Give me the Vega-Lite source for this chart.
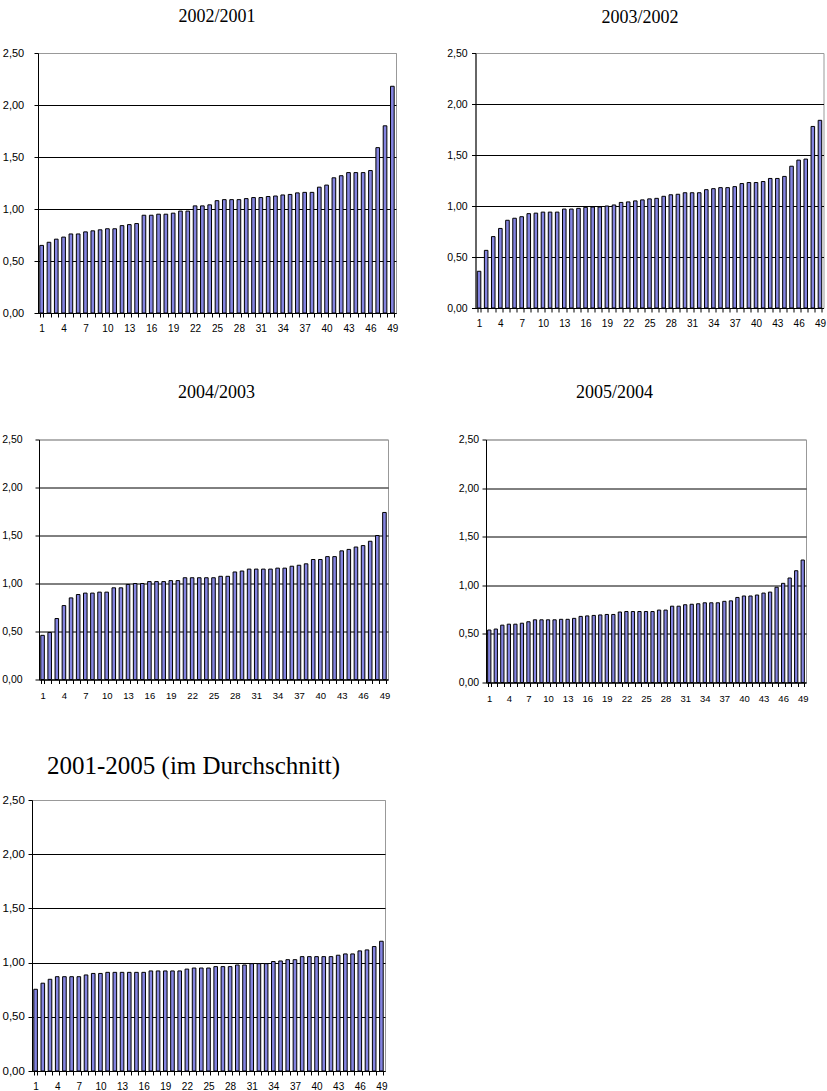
{
  "$schema": "https://vega.github.io/schema/vega-lite/v6.json",
  "padding": {"left": 0, "top": 7, "right": 5, "bottom": 5},
  "background": "white",
  "columns": 1,
  "align": "none",
  "spacing": 49.5,
  "datasets": {
    "d1": [
      {"i":1,"v":0.65},{"i":2,"v":0.68},{"i":3,"v":0.71},{"i":4,"v":0.73},{"i":5,"v":0.76},{"i":6,"v":0.76},{"i":7,"v":0.78},{"i":8,"v":0.79},{"i":9,"v":0.80},{"i":10,"v":0.81},
      {"i":11,"v":0.81},{"i":12,"v":0.84},{"i":13,"v":0.85},{"i":14,"v":0.86},{"i":15,"v":0.94},{"i":16,"v":0.94},{"i":17,"v":0.95},{"i":18,"v":0.95},{"i":19,"v":0.96},{"i":20,"v":0.98},
      {"i":21,"v":0.98},{"i":22,"v":1.03},{"i":23,"v":1.03},{"i":24,"v":1.04},{"i":25,"v":1.08},{"i":26,"v":1.09},{"i":27,"v":1.09},{"i":28,"v":1.09},{"i":29,"v":1.10},{"i":30,"v":1.11},
      {"i":31,"v":1.11},{"i":32,"v":1.12},{"i":33,"v":1.125},{"i":34,"v":1.135},{"i":35,"v":1.14},{"i":36,"v":1.155},{"i":37,"v":1.16},{"i":38,"v":1.16},{"i":39,"v":1.21},{"i":40,"v":1.23},
      {"i":41,"v":1.30},{"i":42,"v":1.32},{"i":43,"v":1.35},{"i":44,"v":1.35},{"i":45,"v":1.35},{"i":46,"v":1.37},{"i":47,"v":1.59},{"i":48,"v":1.80},{"i":49,"v":2.18}
    ],
    "d2": [
      {"i":1,"v":0.36},{"i":2,"v":0.565},{"i":3,"v":0.70},{"i":4,"v":0.78},{"i":5,"v":0.86},{"i":6,"v":0.88},{"i":7,"v":0.895},{"i":8,"v":0.925},{"i":9,"v":0.93},{"i":10,"v":0.94},
      {"i":11,"v":0.94},{"i":12,"v":0.94},{"i":13,"v":0.97},{"i":14,"v":0.97},{"i":15,"v":0.977},{"i":16,"v":0.987},{"i":17,"v":0.99},{"i":18,"v":0.99},{"i":19,"v":1.00},{"i":20,"v":1.01},
      {"i":21,"v":1.035},{"i":22,"v":1.04},{"i":23,"v":1.05},{"i":24,"v":1.06},{"i":25,"v":1.07},{"i":26,"v":1.075},{"i":27,"v":1.095},{"i":28,"v":1.11},{"i":29,"v":1.115},{"i":30,"v":1.13},
      {"i":31,"v":1.13},{"i":32,"v":1.13},{"i":33,"v":1.16},{"i":34,"v":1.17},{"i":35,"v":1.18},{"i":36,"v":1.18},{"i":37,"v":1.19},{"i":38,"v":1.22},{"i":39,"v":1.23},{"i":40,"v":1.23},
      {"i":41,"v":1.24},{"i":42,"v":1.27},{"i":43,"v":1.27},{"i":44,"v":1.29},{"i":45,"v":1.39},{"i":46,"v":1.45},{"i":47,"v":1.46},{"i":48,"v":1.78},{"i":49,"v":1.84}
    ],
    "d3": [
      {"i":1,"v":0.46},{"i":2,"v":0.49},{"i":3,"v":0.635},{"i":4,"v":0.77},{"i":5,"v":0.85},{"i":6,"v":0.885},{"i":7,"v":0.90},{"i":8,"v":0.90},{"i":9,"v":0.91},{"i":10,"v":0.91},
      {"i":11,"v":0.955},{"i":12,"v":0.955},{"i":13,"v":0.99},{"i":14,"v":1.00},{"i":15,"v":1.00},{"i":16,"v":1.02},{"i":17,"v":1.02},{"i":18,"v":1.02},{"i":19,"v":1.03},{"i":20,"v":1.03},
      {"i":21,"v":1.06},{"i":22,"v":1.06},{"i":23,"v":1.06},{"i":24,"v":1.06},{"i":25,"v":1.06},{"i":26,"v":1.075},{"i":27,"v":1.075},{"i":28,"v":1.12},{"i":29,"v":1.13},{"i":30,"v":1.15},
      {"i":31,"v":1.15},{"i":32,"v":1.15},{"i":33,"v":1.15},{"i":34,"v":1.16},{"i":35,"v":1.16},{"i":36,"v":1.18},{"i":37,"v":1.19},{"i":38,"v":1.205},{"i":39,"v":1.25},{"i":40,"v":1.25},
      {"i":41,"v":1.28},{"i":42,"v":1.28},{"i":43,"v":1.34},{"i":44,"v":1.355},{"i":45,"v":1.38},{"i":46,"v":1.395},{"i":47,"v":1.44},{"i":48,"v":1.50},{"i":49,"v":1.74}
    ],
    "d4": [
      {"i":1,"v":0.54},{"i":2,"v":0.55},{"i":3,"v":0.59},{"i":4,"v":0.60},{"i":5,"v":0.60},{"i":6,"v":0.61},{"i":7,"v":0.625},{"i":8,"v":0.645},{"i":9,"v":0.645},{"i":10,"v":0.645},
      {"i":11,"v":0.645},{"i":12,"v":0.65},{"i":13,"v":0.65},{"i":14,"v":0.66},{"i":15,"v":0.68},{"i":16,"v":0.685},{"i":17,"v":0.69},{"i":18,"v":0.695},{"i":19,"v":0.70},{"i":20,"v":0.70},
      {"i":21,"v":0.725},{"i":22,"v":0.73},{"i":23,"v":0.73},{"i":24,"v":0.73},{"i":25,"v":0.73},{"i":26,"v":0.73},{"i":27,"v":0.745},{"i":28,"v":0.745},{"i":29,"v":0.785},{"i":30,"v":0.785},
      {"i":31,"v":0.80},{"i":32,"v":0.805},{"i":33,"v":0.81},{"i":34,"v":0.82},{"i":35,"v":0.82},{"i":36,"v":0.82},{"i":37,"v":0.835},{"i":38,"v":0.84},{"i":39,"v":0.875},{"i":40,"v":0.89},
      {"i":41,"v":0.89},{"i":42,"v":0.90},{"i":43,"v":0.92},{"i":44,"v":0.93},{"i":45,"v":0.98},{"i":46,"v":1.02},{"i":47,"v":1.075},{"i":48,"v":1.15},{"i":49,"v":1.26}
    ],
    "d5": [
      {"i":1,"v":0.754},{"i":2,"v":0.81},{"i":3,"v":0.846},{"i":4,"v":0.87},{"i":5,"v":0.87},{"i":6,"v":0.87},{"i":7,"v":0.87},{"i":8,"v":0.886},{"i":9,"v":0.90},{"i":10,"v":0.90},
      {"i":11,"v":0.91},{"i":12,"v":0.91},{"i":13,"v":0.91},{"i":14,"v":0.91},{"i":15,"v":0.91},{"i":16,"v":0.91},{"i":17,"v":0.923},{"i":18,"v":0.923},{"i":19,"v":0.923},{"i":20,"v":0.923},
      {"i":21,"v":0.923},{"i":22,"v":0.94},{"i":23,"v":0.95},{"i":24,"v":0.95},{"i":25,"v":0.95},{"i":26,"v":0.963},{"i":27,"v":0.963},{"i":28,"v":0.963},{"i":29,"v":0.978},{"i":30,"v":0.978},
      {"i":31,"v":0.99},{"i":32,"v":0.99},{"i":33,"v":0.99},{"i":34,"v":1.01},{"i":35,"v":1.015},{"i":36,"v":1.027},{"i":37,"v":1.027},{"i":38,"v":1.055},{"i":39,"v":1.055},{"i":40,"v":1.055},
      {"i":41,"v":1.055},{"i":42,"v":1.055},{"i":43,"v":1.068},{"i":44,"v":1.08},{"i":45,"v":1.08},{"i":46,"v":1.108},{"i":47,"v":1.117},{"i":48,"v":1.148},{"i":49,"v":1.197}
    ]
  },
  "concat": [
    {
      "spacing": 0,
      "hconcat": [
        {"width": 1, "height": 1, "view": {"stroke": null}, "data": {"values": [{}]}, "mark": {"type": "point", "size": 0, "strokeWidth": 0, "opacity": 0}, "encoding": {}},
        {
          "hconcat": [
            {
              "width": 358, "height": 260,
              "data": {"name": "d1"},
              "title": {"text": "2002/2001", "offset": 21},
              "mark": {"type": "bar", "fill": "#8484e0", "stroke": "black", "strokeWidth": 1},
              "encoding": {
                "x": {"field": "i", "type": "ordinal", "scale": {"paddingInner": 0.5, "paddingOuter": 0.25},
                      "axis": {"title": null, "labelFontSize": 10, "labelExpr": "(datum.value - 1) % 3 == 0 ? datum.label : ''"}},
                "y": {"field": "v", "type": "quantitative", "scale": {"domain": [0, 2.5]},
                      "axis": {"title": null, "values": [0, 0.5, 1, 1.5, 2, 2.5], "labelFontSize": 11, "labelPadding": 10.3,
                               "labelExpr": "replace(format(datum.value, '.2f'), '.', ',')",
                               "gridColor": {"condition": {"test": "datum.value == 2.5", "value": "#999999"}, "value": "black"}}}
              }
            },
            {
              "width": 348, "height": 255,
              "data": {"name": "d2"},
              "title": {"text": "2003/2002", "offset": 21, "dx": -9.5},
              "mark": {"type": "bar", "fill": "#8484e0", "stroke": "black", "strokeWidth": 1},
              "encoding": {
                "x": {"field": "i", "type": "ordinal", "scale": {"paddingInner": 0.5, "paddingOuter": 0.25},
                      "axis": {"title": null, "labelFontSize": 10, "labelExpr": "(datum.value - 1) % 3 == 0 ? datum.label : ''"}},
                "y": {"field": "v", "type": "quantitative", "scale": {"domain": [0, 2.5]},
                      "axis": {"title": null, "values": [0, 0.5, 1, 1.5, 2, 2.5], "labelFontSize": 10.5, "labelPadding": 4.3,
                               "labelExpr": "replace(format(datum.value, '.2f'), '.', ',')",
                               "gridColor": {"condition": {"test": "datum.value == 2.5", "value": "#999999"}, "value": "black"}}}
              }
            }
          ],
          "spacing": 46.5
        }
      ]
    },
    {
      "spacing": 0,
      "hconcat": [
        {"width": 1, "height": 1, "view": {"stroke": null}, "data": {"values": [{}]}, "mark": {"type": "point", "size": 0, "strokeWidth": 0, "opacity": 0}, "encoding": {}},
        {
          "hconcat": [
            {
              "width": 349, "height": 240,
              "data": {"name": "d3"},
              "title": {"text": "2004/2003", "offset": 32.5, "dx": 3},
              "mark": {"type": "bar", "fill": "#8484e0", "stroke": "black", "strokeWidth": 1},
              "encoding": {
                "x": {"field": "i", "type": "ordinal", "scale": {"paddingInner": 0.5, "paddingOuter": 0.25},
                      "axis": {"title": null, "labelFontSize": 9.5, "labelExpr": "(datum.value - 1) % 3 == 0 ? datum.label : ''"}},
                "y": {"field": "v", "type": "quantitative", "scale": {"domain": [0, 2.5]},
                      "axis": {"title": null, "values": [0, 0.5, 1, 1.5, 2, 2.5], "labelFontSize": 10.5, "labelPadding": 12.9,
                               "labelExpr": "replace(format(datum.value, '.2f'), '.', ',')",
                               "gridColor": {"condition": {"test": "datum.value == 2.5", "value": "#999999"}, "value": "black"}}}
              }
            },
            {
              "width": 320, "height": 243,
              "data": {"name": "d4"},
              "title": {"text": "2005/2004", "offset": 32.5, "dx": -31.5},
              "mark": {"type": "bar", "fill": "#8484e0", "stroke": "black", "strokeWidth": 1},
              "encoding": {
                "x": {"field": "i", "type": "ordinal", "scale": {"paddingInner": 0.5, "paddingOuter": 0.25},
                      "axis": {"title": null, "labelFontSize": 9.5, "labelExpr": "(datum.value - 1) % 3 == 0 ? datum.label : ''"}},
                "y": {"field": "v", "type": "quantitative", "scale": {"domain": [0, 2.5]},
                      "axis": {"title": null, "values": [0, 0.5, 1, 1.5, 2, 2.5], "labelFontSize": 10.5, "labelPadding": 3.4,
                               "labelExpr": "replace(format(datum.value, '.2f'), '.', ',')",
                               "gridColor": {"condition": {"test": "datum.value == 2.5", "value": "#999999"}, "value": "black"}}}
              }
            }
          ],
          "spacing": 66
        }
      ]
    },
    {
      "spacing": 0,
      "hconcat": [
        {"width": 1, "height": 1, "view": {"stroke": null}, "data": {"values": [{}]}, "mark": {"type": "point", "size": 0, "strokeWidth": 0, "opacity": 0}, "encoding": {}},
        {
          "width": 353, "height": 271,
          "data": {"name": "d5"},
          "title": {"text": "2001-2005 (im Durchschnitt)", "offset": 15, "dx": -15, "fontSize": 25},
          "mark": {"type": "bar", "fill": "#8484e0", "stroke": "black", "strokeWidth": 1},
          "encoding": {
            "x": {"field": "i", "type": "ordinal", "scale": {"paddingInner": 0.5, "paddingOuter": 0.25},
                  "axis": {"title": null, "labelFontSize": 10, "labelExpr": "(datum.value - 1) % 3 == 0 ? datum.label : ''"}},
            "y": {"field": "v", "type": "quantitative", "scale": {"domain": [0, 2.5]},
                  "axis": {"title": null, "values": [0, 0.5, 1, 1.5, 2, 2.5], "labelFontSize": 11.5, "labelPadding": 3.6,
                           "labelExpr": "replace(format(datum.value, '.2f'), '.', ',')",
                           "gridColor": {"condition": {"test": "datum.value == 2.5", "value": "#999999"}, "value": "black"}}}
          }
        }
      ]
    }
  ],
  "config": {
    "font": "Liberation Sans",
    "view": {"stroke": "#999999", "strokeWidth": 1},
    "title": {"font": "Liberation Serif", "fontSize": 18, "fontWeight": "normal", "color": "black", "anchor": "middle", "frame": "group"},
    "axis": {"labelFont": "Liberation Sans", "labelColor": "black", "domainColor": "black", "tickColor": "black", "tickSize": 4, "domainWidth": 1, "tickWidth": 1},
    "axisX": {"tickBand": "extent", "labelAngle": 0, "labelOverlap": false, "labelPadding": 6.5, "grid": false},
    "axisY": {"grid": true, "gridWidth": 1, "labelOverlap": false}
  }
}
